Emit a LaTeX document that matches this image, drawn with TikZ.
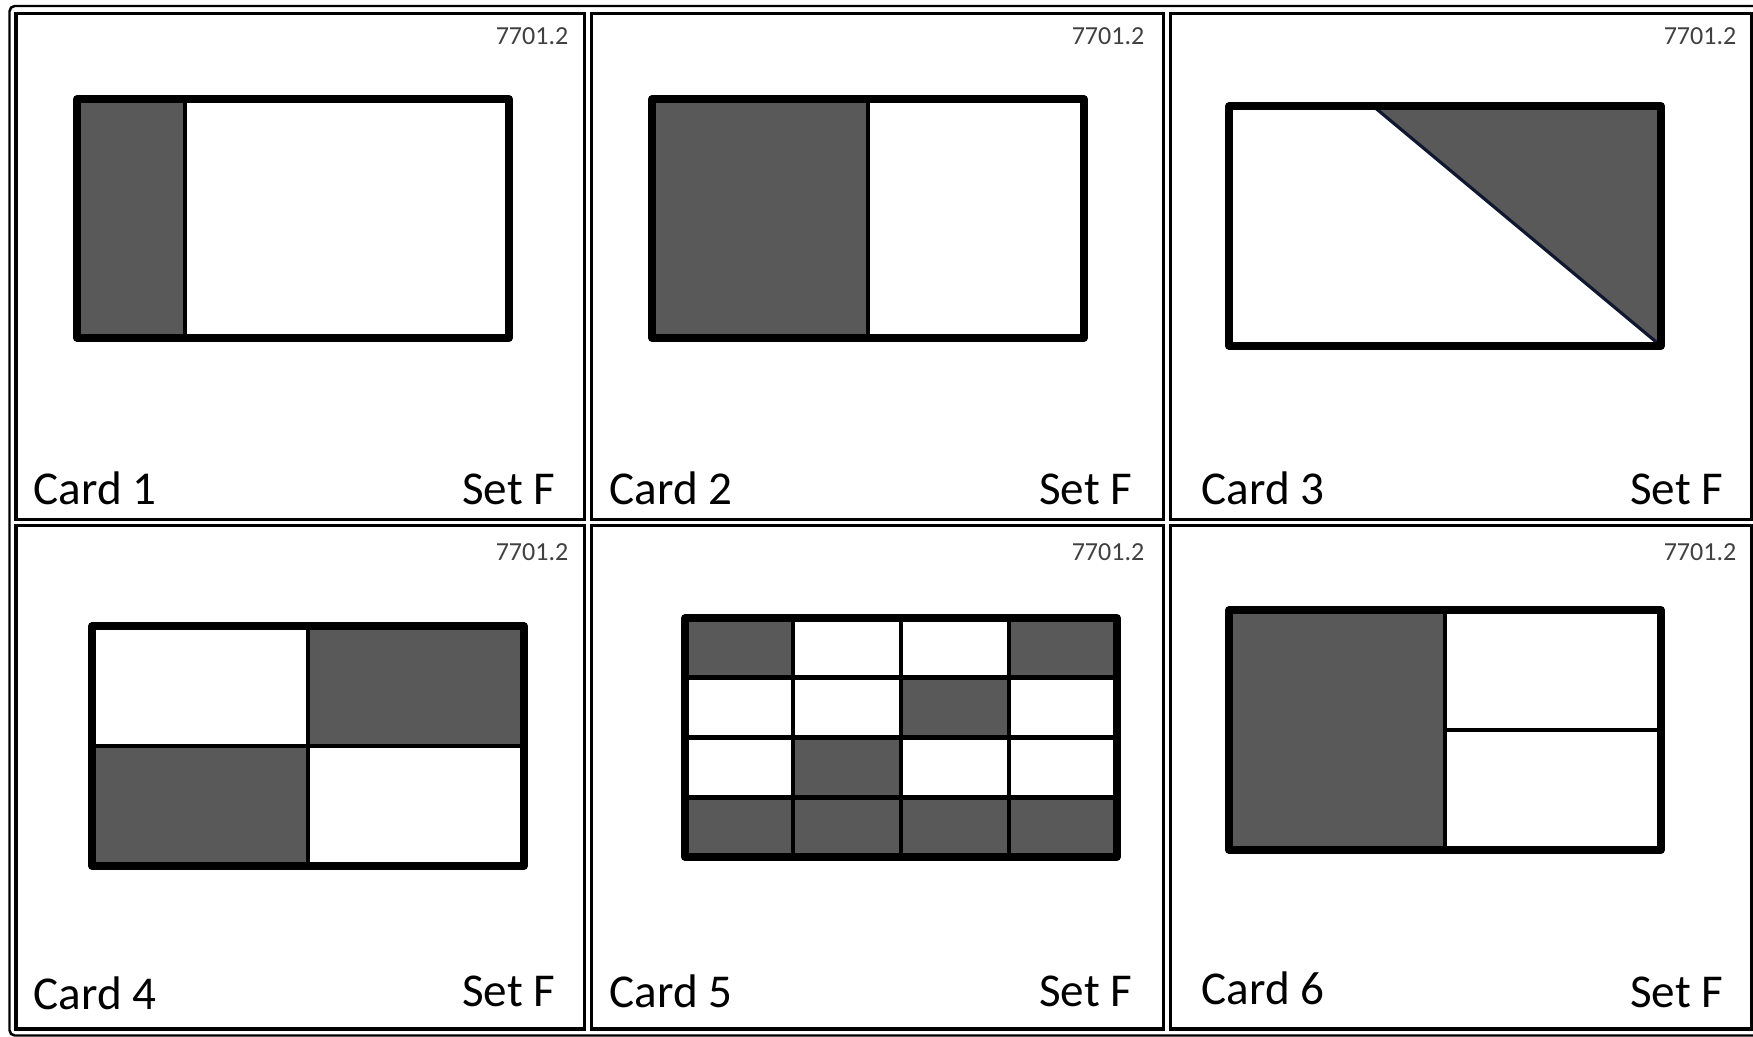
\documentclass[tikz,border=0pt]{standalone}
\usepackage{fontspec}
\setmainfont{Carlito}
\definecolor{shadegray}{RGB}{89,89,89}
\definecolor{codegray}{RGB}{64,64,64}
\definecolor{diagblue}{RGB}{16,24,48}
\tikzset{
    outerframe/.style={line width=0.7pt, rounded corners=1.5pt},
    cardframe/.style={line width=0.9pt},
    figframe/.style={line width=2.1pt, line join=round},
    figline/.style={line width=1.3pt},
    shade/.style={fill=shadegray},
    cardlabel/.style={anchor=base west, inner sep=0pt, font=\fontsize{13.4}{15}\selectfont},
    setlabel/.style={anchor=base east, inner sep=0pt, font=\fontsize{13.4}{15}\selectfont},
    codelabel/.style={anchor=base east, inner sep=0pt, text=codegray, font=\fontsize{7.4}{9}\selectfont}
}
\begin{document}
\begin{tikzpicture}[x=0.01cm, y=-0.01cm]

    \useasboundingbox (0,0) rectangle (1753,1037);
    \clip (0,0) rectangle (1753,1037);

    % Frames
    \draw[outerframe] (9.5,6) rectangle (1770,1035.5);
    \foreach \l/\r/\t/\b in {16/584.5/13.5/519.5, 591.5/1163.5/13.5/519.5, 1170.5/1751.5/13.5/519.5,
                             16/584.5/525.5/1029, 591.5/1163.5/525.5/1029, 1170.5/1751.5/525.5/1029} {
        \draw[cardframe] (\l,\t) rectangle (\r,\b);
    }

    % Labels
    \foreach \n/\x/\y in {1/33/505, 2/609/505, 3/1201/505, 4/33/1010, 5/609/1008, 6/1201/1005} {
        \node[cardlabel] (card\n) at (\x,\y) {Card \n};
    }
    \foreach \n/\x/\y in {1/556/505, 2/1133/505, 3/1724/505, 4/556/1007, 5/1133/1007, 6/1724/1008} {
        \node[setlabel] (set\n) at (\x,\y) {Set F};
    }
    \foreach \n/\x/\y in {1/569/45, 2/1145/45, 3/1737/45, 4/569/561, 5/1145/561, 6/1737/561} {
        \node[codelabel] (code\n) at (\x,\y) {7701.2};
    }

    % Card 1: one quarter
    \begin{scope}[shift={(77,99)}]
        \fill[shade] (0,0) rectangle (108,239);
        \draw[figline] (108,0) -- (108,239);
        \draw[figframe] (0,0) rectangle (432,239);
    \end{scope}

    % Card 2: one half
    \begin{scope}[shift={(652,99)}]
        \fill[shade] (0,0) rectangle (216,239);
        \draw[figline] (216,0) -- (216,239);
        \draw[figframe] (0,0) rectangle (432,239);
    \end{scope}

    % Card 3: triangle
    \begin{scope}[shift={(1229,106)}]
        \fill[shade] (144,0) -- (432,0) -- (432,240) -- cycle;
        \draw[line width=0.9pt, diagblue] (144,0) -- (432,240);
        \draw[figframe] (0,0) rectangle (432,240);
    \end{scope}

    % Card 4: two of four
    \begin{scope}[shift={(92,626)}]
        \fill[shade] (216,0) rectangle (432,120);
        \fill[shade] (0,120) rectangle (216,240);
        \draw[figline] (216,0) -- (216,240);
        \draw[figline] (0,120) -- (432,120);
        \draw[figframe] (0,0) rectangle (432,240);
    \end{scope}

    % Card 5: grid 4x4
    \begin{scope}[shift={(685,618)}]
        \foreach \c/\r in {0/0, 3/0, 2/1, 1/2, 0/3, 1/3, 2/3, 3/3} {
            \fill[shade] (\c*108,\r*59.75) rectangle ++(108,59.75);
        }
        \foreach \c in {1,2,3} {
            \draw[figline] (\c*108,0) -- (\c*108,239);
            \draw[figline] (0,\c*59.75) -- (432,\c*59.75);
        }
        \draw[figframe] (0,0) rectangle (432,239);
    \end{scope}

    % Card 6: half and two quarters
    \begin{scope}[shift={(1229,610)}]
        \fill[shade] (0,0) rectangle (216,240);
        \draw[figline] (216,0) -- (216,240);
        \draw[figline] (216,120) -- (432,120);
        \draw[figframe] (0,0) rectangle (432,240);
    \end{scope}

\end{tikzpicture}
\end{document}
